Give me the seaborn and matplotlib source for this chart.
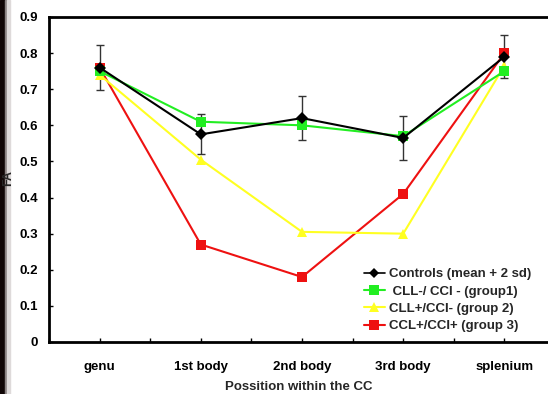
import matplotlib
matplotlib.use("Agg")
import matplotlib.pyplot as plt
import seaborn as sns
import pandas as pd
from matplotlib.patches import Rectangle

positions = ["genu", "1st body", "2nd body", "3rd body", "splenium"]
controls = [0.76, 0.575, 0.62, 0.565, 0.79]
controls_err = [0.062, 0.055, 0.06, 0.06, 0.06]
group1 = [0.75, 0.61, 0.60, 0.57, 0.75]
group2 = [0.74, 0.505, 0.305, 0.30, 0.765]
group3 = [0.76, 0.27, 0.18, 0.41, 0.80]
yticks = [0, 0.1, 0.2, 0.3, 0.4, 0.5, 0.6, 0.7, 0.8, 0.9]
ytick_labels = ["0", "0.1", "0.2", "0.3", "0.4", "0.5", "0.6", "0.7", "0.8", "0.9"]

series_names = ["Controls (mean + 2 sd)", " CLL-/ CCI - (group1)",
                "CLL+/CCI- (group 2)", "CCL+/CCI+ (group 3)"]
series_vals = [controls, group1, group2, group3]

rows = []
for name, vals in zip(series_names, series_vals):
    for i, v in enumerate(vals):
        rows.append({"pos": i, "FA": v, "series": name})
df = pd.DataFrame(rows)

sns.set_theme(style="white")
plt.rcParams["font.family"] = ["Liberation Sans", "DejaVu Sans"]
plt.rcParams["font.weight"] = "bold"

fig = plt.figure(figsize=(5.48, 3.94), dpi=100)
fig.patch.set_facecolor("white")
ax = fig.add_axes([49/548, 52/394, 506/548, 325/394])

palette = {series_names[0]: "#000000", series_names[1]: "#22ee22",
           series_names[2]: "#ffff22", series_names[3]: "#ee1111"}
markers = {series_names[0]: "D", series_names[1]: "s",
           series_names[2]: "^", series_names[3]: "s"}
msizes = {series_names[0]: 5, series_names[1]: 6.5,
          series_names[2]: 6.5, series_names[3]: 6.5}

ax.errorbar(range(len(controls)), controls, yerr=controls_err, fmt="none",
            ecolor="#333333", elinewidth=1.0, capsize=3, capthick=1.0, zorder=1)

sns.lineplot(data=df, x="pos", y="FA", hue="series", style="series",
             palette=palette, markers=markers, dashes=False, linewidth=1.5,
             markersize=6.5, markeredgewidth=0, ax=ax,
             hue_order=series_names[::-1], style_order=series_names[::-1])

for line in ax.get_lines():
    lab = line.get_label()
    if lab in msizes:
        line.set_markersize(msizes[lab])
        if lab == series_names[0]:
            line.set_linewidth(1.2)

handles, labels = ax.get_legend_handles_labels()
order = [labels.index(n) for n in series_names]
leg_handles = [handles[i] for i in order]
for h, n in zip(leg_handles, series_names):
    h.set_markersize(msizes[n])
ax.legend(leg_handles, [labels[i] for i in order],
          frameon=False, loc="lower left",
          bbox_to_anchor=(352/548, 50/394), bbox_transform=fig.transFigure,
          handlelength=1.6, handletextpad=0.3, labelspacing=0.38,
          prop={"weight": "bold", "size": 9.5})

ax.set_xlim(-0.5, 4.5)
ax.set_ylim(0, 0.9)
ax.set_xticks(range(len(positions)))
ax.set_xticklabels(positions, fontsize=9.5, fontweight="bold")
ax.set_xticks([i + 0.5 for i in range(-1, 5)], minor=True)
ax.set_yticks(yticks)
ax.set_yticklabels(ytick_labels, fontsize=9.5, fontweight="bold")
ax.tick_params(axis="x", which="both", direction="in", length=3, width=1,
               bottom=True, pad=14, colors="black")
ax.tick_params(axis="y", direction="in", length=3, width=1, left=True,
               pad=8, colors="black")
ax.set_xlabel("Possition within the CC", fontsize=9.5, fontweight="bold")
ax.xaxis.set_label_coords(0.5 - 3/506, -39/325)
ax.set_ylabel("FA", fontsize=9, fontweight="bold")
ax.yaxis.set_label_coords(-35/506, 164/325)
for s in ["left", "bottom", "top"]:
    ax.spines[s].set_linewidth(2)
    ax.spines[s].set_color("black")
ax.spines["right"].set_visible(False)

fig.add_artist(Rectangle((0, 0), 4.5/548, 1, transform=fig.transFigure,
                         color="#100606", zorder=-1))
fig.add_artist(Rectangle((4.5/548, 0), 2/548, 1, transform=fig.transFigure,
                         color="#8a8282", zorder=-1))
fig.add_artist(Rectangle((6.5/548, 0), 3/548, 1, transform=fig.transFigure,
                         color="#dedada", zorder=-1))

fig.savefig("out.png", dpi=100)
